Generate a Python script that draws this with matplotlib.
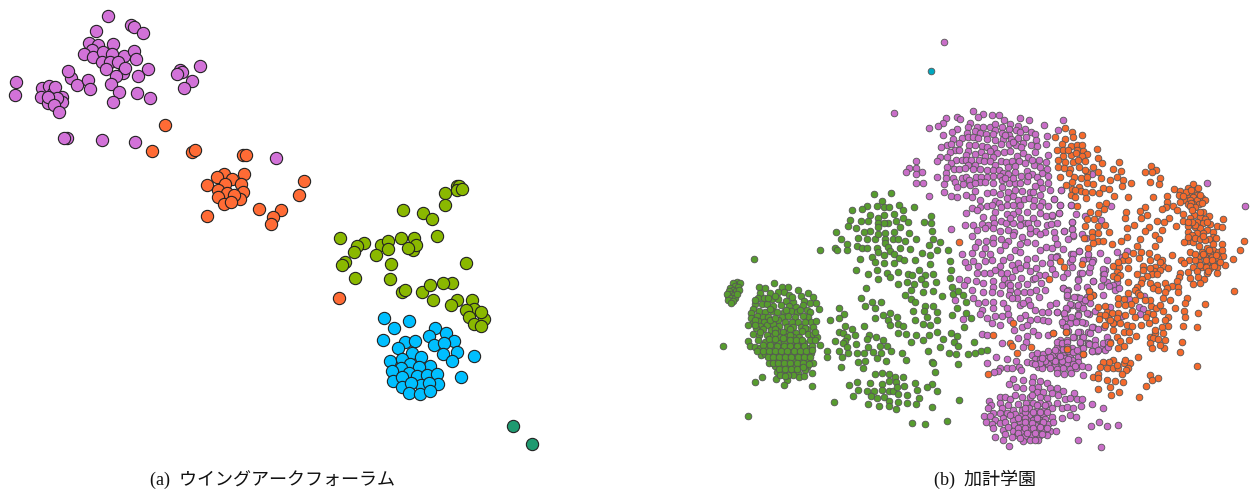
import numpy as np
import matplotlib
matplotlib.use("Agg")
import matplotlib.pyplot as plt

# (a) embedding, values
purple_a = [(107.7,15.7),(131,25.3),(134,27),(143.3,33.3),(96.3,30.7),(88.7,43.3),(98,44.7),(113.3,43.7),(91.7,50),(84,53.7),
    (93,57.3),(103.3,52),(111.7,53.7),(124,56.3),(134.3,51),(136,59),(102.3,62.3),(110,61.7),(118.3,62),(106.3,69.3),
    (122.7,73.3),(125,67.7),(116.3,75.7),(148,69.3),(138.3,75.7),(70.7,77.7),(67.7,70.7),(77.3,85.3),(87.7,80),(90,88.7),
    (110.7,83.7),(119,91.7),(113,101.7),(137.3,92.7),(150.3,98.3),(180.3,70),(181.7,72),(177.3,74),(200,65.7),(192,81),
    (183.7,87.7),(16.3,82),(14.7,95.3),(42.3,88.3),(49.3,85.7),(40.7,97),(62.3,96.7),(47.7,103.3),(61.7,102.3),(53.3,93.3),
    (55.3,87.3),(56.7,98.3),(48.3,97),(54,105),(59.3,112),(66.7,138),(64,138.3),(102,140),(135,142),(276,158.3)]
orange_a = [(165.3,125),(152.3,151),(191.7,152.3),(194.7,149.7),(243.3,154.7),(246,155.3),(244,174.3),(224,174),(217.3,176.7),
    (232,179),(206.7,184.7),(240.7,184),(225,184.3),(218.3,190),(242.7,191.7),(226.7,193),(240,199),(234,195),(218,197.3),
    (224.3,204.3),(231.3,202.3),(303.7,181.3),(299.3,195),(258.7,208.7),(281,210),(272.7,216.7),(271.3,224),(207,216),(339.3,297.7)]
olive_a = [(456.7,185.7),(459.3,185.7),(457.3,190),(461.7,189.3),(445,193),(444.7,204.7),(403,209.7),(423,213),(432,219),(340,238),
    (363.7,243),(357.3,246.3),(354.3,252),(381.3,244.7),(387.7,241),(387.7,248.7),(375.7,254.7),(401,238.3),(414.3,238),(412.7,250),
    (415.7,244.7),(407.7,248),(436.7,236.3),(391,263.7),(465.7,262.7),(345,261.7),(342,265.3),(355,278.3),(390,279.3),(401.7,292),
    (404.7,290),(421.7,292),(430.3,285.3),(452,282.7),(443.3,282.7),(433.3,300.3),(456.7,300),(451.3,304.7),(472.3,300),(474,309.3),
    (466,310.3),(484.3,319.3),(469,317.3),(481.3,311.7),(473.7,323.7),(480.7,326)]
blue_a = [(384,318.3),(409.3,320.7),(394,328),(382.7,339.7),(435.3,328.3),(445.7,333),(428.7,335.7),(454.3,341.3),(434,345),(444.3,343.3),
    (457,352),(443.3,354.3),(452.3,361),(474,356),(460.7,377),(405,342),(415.3,341.3),(397.7,348),(411.7,352.7),(421.3,357.3),
    (390.3,360.7),(401.7,359.3),(410.3,363.7),(429.7,366.3),(418.7,367),(401,367.7),(391.7,371.3),(409,373.3),(417.3,375.7),(426.7,375.3),
    (437.3,373.7),(393.3,380.7),(402,377),(438,384),(402,387),(420.7,385),(429,383.3),(411,383.3),(409.3,393.3),(420.3,394),(429.7,391.3)]
teal_a = [(512.7,426),(531.7,444)]

# (b) embedding
green_b = [(737,282),(733,283),(740,283),(735,286),(730,288),(738,287),(733,290),(729,291),(736,291),(731,294),(728,296),(734,295),
    (739,290),(727,294),(731,298),(735,298),(728,300),(733,301),(731,303),(737,294),
    (759,287),(765,288),(774,283),(782,287),(788,287),(798,290),(808,293),(801,296),(813,297),(770,293),(778,292),(784,292),(760,293),
    (789,295),(758,298),(764,298),(772,299),(778,299),(786,301),(793,302),(804,301),(810,303),(816,303),(755,304),(762,304),(767,304),
    (773,306),(781,305),(789,306),(796,307),(803,305),(819,309),(807,310),(810,312),(753,309),(759,311),(765,312),(772,311),(784,312),
    (791,311),(797,312),(751,313),(757,316),(763,317),(768,317),(782,317),(788,316),(795,317),(808,317),(751,318),(758,321),(764,322),
    (778,320),(785,322),(792,322),(798,322),(811,322),(816,321),(753,323),(760,326),(767,325),(773,324),(779,326),(787,327),(793,327),
    (801,327),(813,327),(756,328),(763,329),(771,330),(777,331),(783,332),(789,332),(796,333),(807,329),(753,334),(759,335),(767,335),
    (773,336),(780,337),(786,337),(793,337),(799,337),(808,334),(813,334),(817,337),(748,341),(758,340),(765,342),(772,342),(778,343),
    (784,343),(791,343),(797,343),(804,343),(810,340),(750,346),(755,347),(760,348),(767,347),(774,347),(781,348),(787,348),(794,349),
    (801,348),(807,348),(820,345),(761,355),(765,354),(771,353),(777,354),(784,354),(791,354),(797,354),(804,354),(811,353),(769,363),
    (775,360),(781,360),(787,361),(794,360),(801,360),(807,360),(813,363),(775,366),(781,366),(787,366),(794,366),(800,366),(807,367),
    (777,372),(784,372),(792,373),(798,373),(805,370),(812,373),(799,377),(793,375),(762,377),(755,382),(776,379),(787,380),(784,385),
    (812,386),(723,346),(754,259),(748,416),(820,250),
    (755,300),(768,298),(775,296),(792,297),(770,309),(777,312),(786,310),(800,310),(755,320),(770,320),(775,318),(803,316),(805,322),
    (748,325),(755,325),(775,329),(790,329),(805,328),(760,332),(775,333),(802,331),(790,335),(769,339),(775,339),(783,338),(790,340),
    (796,340),(802,340),(763,345),(770,345),(777,346),(784,346),(790,346),(797,346),(804,346),(812,346),(757,351),(763,351),(769,351),
    (775,351),(781,351),(787,351),(794,351),(800,351),(806,351),(812,350),(768,357),(773,357),(779,357),(785,357),(791,357),(798,357),
    (804,357),(810,357),(773,363),(778,363),(784,363),(790,363),(797,363),(803,363),(809,364),(779,369),(785,369),(791,369),(797,369),
    (803,367),(788,375),(780,375),(785,376),(804,376),(815,340),(815,332),
    (874,194),(891,193),(882,201),(867,206),(862,209),(852,210),(877,206),(884,207),(889,207),(899,205),(903,210),(914,207),(870,215),
    (884,215),(894,214),(878,218),(850,220),(861,221),(868,221),(878,223),(888,223),(896,221),(903,218),(908,222),(924,222),(931,216),
    (931,223),(848,226),(856,228),(870,231),(864,232),(878,227),(884,223),(894,232),(900,227),(909,233),(932,231),(836,232),(841,239),
    (847,244),(858,238),(867,239),(875,239),(878,234),(885,233),(885,239),(893,239),(898,239),(905,241),(916,239),(933,239),(940,242),
    (929,245),(835,248),(837,250),(847,250),(857,246),(862,248),(867,248),(885,243),(888,247),(877,248),(878,252),(900,248),(910,249),
    (890,251),(922,253),(930,255),(937,250),(948,250),(860,259),(872,257),(884,255),(894,254),(899,258),(904,260),(875,262),(884,263),
    (894,263),(915,260),(930,264),(950,261),(856,270),(868,274),(877,270),(887,273),(890,277),(898,272),(908,274),(912,275),(919,270),
    (933,274),(925,275),(951,270),(878,279),(921,279),(907,282),(898,284),(914,284),(925,284),(936,282),(950,278),(952,287),(866,288),
    (911,290),(923,292),(933,291),(905,295),(942,296),(953,294),(958,291),(963,295),(861,298),(872,302),(881,302),(911,299),(915,302),
    (966,302),(865,306),(875,308),(925,306),(933,306),(957,308),(913,311),(924,311),(937,312),(839,308),(844,314),(883,315),(890,313),
    (952,315),(966,313),(875,318),(839,318),(830,320),(897,317),(888,320),(927,317),(915,320),(937,320),(971,318),(923,324),(930,325),
    (964,327),(890,325),(898,324),(903,326),(845,326),(864,326),(852,329),(839,332),(843,333),(898,333),(906,334),(916,335),(929,335),
    (937,332),(951,333),(957,336),(855,335),(869,335),(876,337),(847,337),(923,340),(943,339),(911,342),(835,341),(845,341),(867,339),
    (883,340),(954,342),(974,342),(887,346),(856,344),(843,343),(868,347),(880,346),(847,347),(940,347),(958,346),(891,351),(839,351),
    (827,351),(873,352),(881,353),(857,353),(864,353),(928,351),(949,353),(956,354),(968,354),(975,353),(981,351),(987,350),(848,353),
    (902,353),(827,357),(842,357),(877,358),(886,361),(858,362),(865,361),(906,360),(932,362),(933,363),(958,364),(841,367),(863,368),
    (935,372),(875,374),(882,373),(889,374),(895,377),(903,377),(857,382),(870,383),(882,384),(889,381),(896,382),(915,383),(932,384),
    (849,385),(927,387),(904,386),(858,390),(867,391),(874,391),(882,390),(889,391),(893,391),(897,387),(917,390),(937,391),(871,396),
    (877,398),(884,397),(898,394),(907,395),(853,396),(919,398),(834,402),(868,404),(889,401),(898,402),(907,403),(916,404),(959,400),
    (879,406),(889,406),(896,409),(932,407),(947,421),(912,423),(925,424)]

purple_b = [(944,42),(894,113),(973,111),(983,114),(978,117),(992,115),(999,115),(957,117),(960,119),(946,118),(943,123),(938,126),
    (929,128),(970,123),(1004,120),(1020,118),(1029,120),(1010,124),(1018,126),(1044,125),(1063,120),(1058,130),(968,127),(957,129),
    (952,132),(943,135),(977,127),(983,127),(990,127),(995,124),(1002,127),(1009,129),(1025,129),(975,131),(995,130),(1016,130),(1020,132),
    (1031,132),(1047,136),(967,133),(980,133),(986,134),(993,134),(1002,133),(1009,135),(1035,134),(953,139),(962,138),(968,137),(973,137),
    (978,138),(987,139),(995,140),(1003,139),(1011,139),(1018,138),(1026,137),(1036,140),(947,145),(951,144),(941,147),(959,143),(969,145),
    (975,145),(982,146),(987,147),(994,148),(1001,144),(1009,144),(1016,145),(1023,143),(1031,145),(1037,146),(1046,144),(955,150),(950,152),
    (959,150),(968,151),(981,152),(990,151),(997,153),(1004,152),(1010,151),(1023,153),(940,157),(937,161),(947,157),(975,154),(966,155),
    (985,156),(993,157),(1017,156),(1028,157),(1048,155),(956,160),(962,160),(966,160),(971,160),(979,160),(984,161),(990,161),(1001,161),
    (1006,162),(1012,161),(1019,161),(1039,160),(1046,162),(951,163),(968,165),(975,165),(995,165),(1034,165),(947,167),(954,169),(959,169),
    (965,168),(973,169),(980,169),(987,170),(993,170),(999,170),(1008,167),(1015,166),(1047,169),(1027,171),(1042,173),(946,173),(1003,173),
    (1032,174),(1037,177),(1048,176),(937,177),(946,178),(953,178),(962,178),(966,177),(976,177),(981,177),(987,177),(993,176),(1000,176),
    (1021,176),(969,180),(944,184),(955,182),(963,184),(970,185),(980,182),(993,183),(1002,180),(1009,183),(1015,183),(1020,183),(1027,181),
    (1040,182),(1048,183),(957,187),(1002,187),(1050,190),(1061,190),(944,192),(951,196),(957,197),(966,195),(972,197),(987,193),(993,192),
    (1008,192),(1022,191),(1030,192),(1040,195),(929,196),(980,200),(995,201),(1007,198),(1013,196),(1018,200),(1024,199),(1029,198),(1034,200),
    (1054,199),(1042,202),(999,203),(972,208),(980,207),(987,206),(992,205),(1001,207),(1007,205),(1013,205),(1033,206),(1060,205),(1071,205),
    (966,213),(977,210),(995,212),(1018,211),(1027,212),(1040,213),(1046,216),(1052,216),(1059,213),(1007,214),(1013,214),(983,217),(993,218),
    (1033,218),(1072,222),(1001,221),(1006,223),(1025,223),(1037,223),(965,225),(973,225),(982,224),(988,225),(994,223),(1013,223),(1020,225),
    (1028,223),(1047,225),(951,229),(977,230),(985,228),(993,228),(1000,231),(1008,230),(1014,232),(1036,231),(1045,232),(1054,232),(1064,231),
    (1072,229),(972,236),(993,238),(1013,235),(1022,237),(1030,233),(1040,234),(1073,236),(978,242),(986,241),(1001,239),(1008,241),(1020,244),
    (1027,242),(1035,243),(1046,247),(1052,248),(993,243),(916,161),(909,168),(916,168),(906,172),(922,172),(916,174),(916,183),(923,183),
    (962,254),(972,253),(982,254),(990,254),(973,261),(985,261),(992,260),(1003,260),(1010,257),(1027,259),(1042,263),(1051,257),(1057,256),
    (1071,254),(1079,251),(1088,258),(978,266),(968,267),(1000,266),(1012,265),(1026,265),(1036,268),(1050,263),(1070,262),(1093,260),(977,273),
    (984,273),(990,273),(995,270),(1001,273),(1007,273),(1015,270),(1030,271),(1039,275),(1052,269),(1080,273),(1089,272),(1105,270),(959,279),
    (967,280),(976,281),(983,283),(993,281),(1004,279),(1012,277),(1021,278),(1033,279),(1078,279),(1103,274),(1093,281),(964,285),(972,290),
    (993,287),(1002,285),(1008,283),(1018,285),(1027,284),(1041,283),(1063,288),(1068,290),(1117,282),(983,292),(992,292),(1010,290),(1017,292),
    (1024,292),(1036,290),(1045,290),(1113,285),(1107,282),(1067,297),(1077,297),(1087,297),(955,300),(973,298),(978,303),(985,302),(993,302),
    (1003,303),(1009,295),(1017,298),(1028,300),(1039,297),(1050,305),(1083,302),(1072,305),(1078,307),(1090,303),(993,308),(982,310),(1007,308),
    (1020,305),(1030,305),(1042,312),(1048,312),(1057,312),(1067,309),(1064,314),(1089,314),(1078,314),(980,314),(987,318),(995,316),(1002,316),
    (1008,314),(1025,315),(1030,320),(1020,318),(1037,319),(1043,320),(1048,321),(1065,318),(1070,323),(1077,321),(1085,323),(963,319),(992,323),
    (1022,327),(1027,325),(1033,331),(1063,325),(1068,331),(1080,332),(1088,332),(1093,327),(982,334),(987,335),(1018,338),(1027,336),(1038,335),
    (1048,335),(1074,337),(1082,338),(1002,343),(1026,342),(1060,340),(1067,340),(1080,343),(1088,343),(1107,337),(1110,342),(1023,347),(1057,347),
    (1062,345),(1072,348),(1083,348),(1102,348),(1107,347),(1092,351),(1097,351),(996,357),(1007,359),(987,363),(1016,361),
    (1032,355),(1037,353),(1043,354),(1048,351),(1053,355),(1058,353),(1063,353),(1070,355),(1078,357),(1035,359),(1040,359),(1047,358),(1052,360),
    (1058,359),(1065,358),(1072,360),(1078,362),(1027,362),(1032,363),(1038,367),(1043,365),(1048,364),(1055,365),(1062,364),(1067,363),(1073,364),
    (1082,366),(1088,367),(1042,368),(1050,368),(1057,369),(1063,368),(1070,369),(1076,368),(1057,373),(1064,374),(1071,373),(1083,375),(1000,368),
    (998,371),(994,372),(1007,368),(1012,368),(1019,367),(1021,370),
    (1045,361),(1055,361),(1062,361),(1068,359),(1075,366),(1040,363),(1035,364),(1050,357),(1060,356),(1068,351),(1073,352),(1055,350),(1063,349),(1042,358),
    (1033,377),(1013,379),(1023,380),(1040,381),(1009,384),(1016,387),(1023,388),(1032,382),(1047,383),(1057,388),(1063,391),(1032,388),(1038,387),
    (1050,388),(1074,393),(1030,397),(1037,392),(1043,392),(1052,393),(1058,395),(1000,397),(1005,397),(1010,399),(1015,395),(1022,397),(1032,395),
    (1040,397),(1047,398),(1065,399),(1070,398),(1077,399),(1082,399),(989,401),(1000,403),(1008,405),(1018,404),(1026,403),(1033,403),(1040,403),
    (1048,404),(1057,403),(991,405),(988,408),(1002,408),(1013,410),(1022,410),(1029,408),(1037,410),(1044,410),(1052,408),(1062,408),(1067,407),
    (1073,408),(1081,406),(1092,404),(1103,408),(993,413),(1000,413),(1007,413),(1021,416),(1029,415),(1036,415),(1043,415),(1052,417),(1070,415),
    (1076,417),(984,416),(990,416),(995,420),(1003,418),(1013,420),(1020,422),(1027,420),(1033,420),(1040,420),(1045,419),(1062,418),(986,422),
    (992,424),(1000,423),(1014,425),(1021,427),(1028,425),(1035,425),(1042,424),(1048,424),(1053,422),(993,428),(1003,430),(1013,431),(1022,432),
    (1029,430),(1036,430),(1043,430),(1050,431),(1056,431),(995,437),(1005,434),(1017,435),(1025,436),(1032,435),(1039,436),(1047,435),(1003,440),
    (1023,441),(1030,440),(1038,440),(1009,446),(1078,440),(1101,447),(1099,422),(1091,426),(1107,426),(1118,425),
    (1015,414),(1025,412),(1033,412),(1040,412),(1047,412),(1018,418),(1025,418),(1037,418),(1043,422),(1025,422),(1032,423),(1018,428),(1025,428),
    (1033,428),(1040,427),(1047,428),(1018,433),(1027,433),(1035,433),(1042,434),(1012,437),(1020,438),(1035,440),(1010,415),(1005,422),(1008,427),
    (1037,405),(1025,408),(1045,405),
    (1005,135),(1013,142),(1021,147),(1035,152),(1025,163),(1032,160),(1040,167),(1008,174),(1015,172),(1028,176),(1005,178),(1013,178),(985,182),
    (975,183),(1035,186),(1042,188),(1033,192),(1015,190),(1000,194),(975,191),(1040,206),(1020,205),(1048,206),(1010,218),(1020,218),(1030,228),
    (1055,238),(1005,245),(1015,250),(1000,250),(1020,252),(1040,250),(985,248),(975,247),(965,262),(1018,263),(1035,258),(1045,275),(1020,268),
    (1010,285),(1000,293),(1035,278),(1030,292),(1012,298),(1023,303),(1035,310),(1010,320),(1000,325),(1014,330),
    (1092,174),(1061,190),(1054,199),(1060,205),(1071,205),(1111,206),(1059,213),(1076,214),(1085,216),(1101,220),(1052,215),(1072,222),(1057,223),
    (1051,224),(1064,231),(1072,229),(1082,234),(1073,235),(1068,239),(1086,238),(1057,244),(1063,249),(1079,251),(1073,254),(1072,259),(1088,254),
    (1100,253),(1117,252),(1127,251),(1056,257),(1083,260),(1107,260),(1122,257),(1072,267),(1090,267),(1103,269),(1104,274),(1082,273),(1092,262),
    (1067,273),(1063,277),(1055,274),(1093,281),(1078,280),(1103,279),(1101,286),(1109,286),(1115,290),(1119,288),(1063,288),(1067,291),(1077,287),
    (1087,287),(1067,295),(1080,298),(1085,300),(1074,297),(1093,295),(1103,295),(1129,299),(1144,296),(1056,303),(1070,304),(1066,308),(1078,305),
    (1083,308),(1095,311),(1110,307),(1139,307),(1143,309),(1140,314),(1057,312),(1064,313),(1071,317),(1078,315),(1087,313),(1062,322),(1082,322),
    (1076,322),(1122,316),(1113,323),(1092,327),(1098,329),(1104,327),(1066,327),(1078,332),(1083,337),(1090,333),(1095,340),(1073,337),(1057,342),
    (1062,343),(1067,342),(1080,342),(1088,343),(1103,343),(1108,342),(1089,344),(1095,345),(1067,347),(1077,350),(1092,351),(1098,350),(1105,350),
    (1108,347),(1207,183),(1245,206)]

orange_b = [(1065,128),(1055,137),(1072,132),(1073,137),(1082,135),(1065,139),(1062,144),(1071,146),(1077,145),(1082,145),(1097,149),(1057,150),
    (1063,150),(1077,150),(1083,151),(1071,155),(1076,153),(1087,154),(1063,156),(1082,156),(1098,158),(1058,160),(1065,162),(1073,162),(1085,161),
    (1102,163),(1119,162),(1058,167),(1070,169),(1079,167),(1093,167),(1113,169),(1151,166),(1064,168),(1156,170),(1069,173),(1087,172),(1098,172),
    (1121,171),(1145,172),(1152,172),(1060,177),(1074,177),(1081,178),(1087,177),(1101,178),(1117,177),(1110,180),(1160,178),(1123,180),(1072,182),
    (1066,185),(1079,187),(1087,183),(1093,184),(1150,182),(1131,183),(1159,184),(1122,186),(1103,188),(1081,191),(1085,192),(1072,189),(1099,193),
    (1109,189),(1092,192),(1174,189),(1180,191),(1193,184),(1188,188),(1196,190),(1198,188),(1071,195),(1086,198),(1114,196),(1075,197),(1128,197),
    (1153,197),(1167,196),(1179,195),(1190,195),(1197,195),(1187,197),(1193,197),(1202,198),(1205,200),(1167,202),(1185,200),(1190,200),(1197,200),
    (1180,202),(1077,206),(1099,205),(1106,203),(1188,204),(1193,204),(1199,204),(1173,206),(1202,203),(1145,207),(1166,207),(1140,211),(1126,212),
    (1162,209),(1177,210),(1090,212),(1104,209),(1098,213),(1183,214),(1203,212),(1147,215),(1194,215),(1200,217),(1209,216),(1125,218),(1141,218),
    (1169,218),(1190,218),(1205,219),(1223,219),(1087,219),(1094,219),(1157,221),(1164,222),(1183,221),(1197,222),(1203,223),(1210,224),(1134,225),
    (1085,226),(1098,226),(1105,225),(1176,226),(1188,226),(1195,227),(1200,228),(1217,226),(1222,227),(1127,228),(1149,227),(1162,230),(1207,230),
    (1145,231),(1092,232),(1188,232),(1197,233),(1203,233),(1213,232),(1098,233),(1109,232),(1155,235),(1127,237),(1192,235),(1213,237),(1092,237),
    (1140,239),(1159,239),(1209,239),(1216,238),(1084,238),(1098,241),(1103,241),(1121,241),(1188,241),(1184,242),(1193,242),(1244,241),(1093,243),
    (1112,244),(1213,244),(1222,244),(1137,246),(1155,246),(1199,246),(1240,250),(1088,248),(1207,248),(1213,250),(1141,252),(1149,253),(1190,252),
    (1202,252),(1210,253),(1218,252),(1172,255),(1223,256),(1133,253),(1157,257),(1198,257),(1205,257),(1212,257),(1218,258),(1123,260),(1128,260),
    (1139,258),(1162,260),(1233,259),(1150,260),(1181,260),(1189,260),(1184,263),(1199,262),(1207,263),(1213,263),(1225,265),(1113,266),(1119,267),
    (1128,268),(1143,266),(1155,267),(1163,266),(1193,267),(1202,267),(1210,268),(1217,267),(1168,268),(1154,271),(1160,270),(1117,272),(1137,274),
    (1152,274),(1180,273),(1207,273),(1217,273),(1188,272),(1197,271),(1113,276),(1120,275),(1147,276),(1157,274),(1179,277),(1198,277),(1190,278),
    (1204,279),(1142,279),(1117,278),(1128,282),(1165,283),(1177,281),(1141,283),(1150,283),(1157,285),(1193,284),(1200,283),(1172,286),(1137,287),
    (1167,288),(1178,287),(1135,290),(1153,288),(1165,292),(1178,292),(1089,291),(1234,291),(1128,293),(1138,293),(1093,295),(1118,298),(1124,299),
    (1163,298),(1187,298),(1135,300),(1170,300),(1151,306),(1156,308),(1185,303),(1205,304),(1098,307),(1105,306),(1118,304),(1131,304),(1175,308),
    (1107,312),(1100,315),(1118,313),(1112,313),(1148,313),(1163,311),(1132,311),(1184,311),(1198,313),(1153,314),(1099,319),(1108,318),(1117,318),
    (1135,317),(1146,317),(1168,317),(1185,317),(1105,325),(1113,323),(1120,323),(1127,325),(1149,323),(1165,320),(1141,325),(1132,326),(1168,326),
    (1162,327),(1183,326),(1197,327),(1053,333),(1066,332),(1113,330),(1124,332),(1129,332),(1155,333),(1163,333),(1136,336),(1150,337),(1117,337),
    (1153,338),(1158,339),(1165,340),(1120,341),(1129,340),(1110,343),(1182,342),(1150,343),(1067,349),(1124,346),(1118,348),(1152,348),(1164,348),
    (1180,352),(1083,354),(1138,357),(1113,360),(1109,362),(1124,363),(1103,362),(1130,363),(1100,367),(1107,368),(1113,368),(1118,368),(1128,368),
    (1197,366),(1093,377),(1098,374),(1126,370),(1122,374),(1150,375),(1152,380),(1158,378),(1098,378),(1107,380),(1115,381),(1123,382),(1110,387),
    (1146,386),(1098,389),(1119,392),(1111,395),(1139,397),
    (959,242),(1049,279),(1060,261),(1064,267),(1082,264),(1089,291),(1090,297),(1013,323),(993,335),(1010,343),(1012,346),(1031,347),(1017,353),
    (1053,333),(1066,332),(1067,349),(1083,354),(988,374),
    (1203,254),(1209,250),(1216,255),(1206,260),(1212,260),(1220,262),(1195,260),(1200,265),(1206,267),(1214,266),(1208,271),(1222,250),(1195,254),
    (1186,192),(1191,190),(1200,195),(1183,196),(1191,203),(1195,207),(1190,206),(1195,225),(1192,222),(1207,222),(1195,238),(1200,239),(1205,240),
    (1188,222),(1188,237),(1203,236),(1200,212),(1192,210),(1078,160),(1068,150),(1085,170),(1075,190),(1150,300),(1140,295),(1158,290),(1145,300),
    (1160,305),(1155,320),(1125,305),(1110,320),(1125,315),(1105,315),(1143,270),(1150,268),(1160,262),(1118,262),(1125,255),(1155,330),(1160,345),
    (1125,360),(1117,365)]
teal_b = [(931,71)]

captions = ["(a)  ウイングアークフォーラム", "(b)  加計学園"]
caption_x = [273, 984.5]

plt.rcParams['font.family'] = ['Liberation Serif', 'Noto Sans CJK JP']

fig = plt.figure(figsize=(12.5, 4.91), dpi=100)
ax = fig.add_axes([0, 0, 1, 1])
ax.set_xlim(0, 1250)
ax.set_ylim(491, 0)
ax.axis('off')

# left panel has big dots with black outline
for pts, col in [(purple_a, '#d272d8'), (orange_a, '#ff6b35'), (olive_a, '#8ab800'), (blue_a, '#00bfff'), (teal_a, '#1f9a70')]:
    x, y = np.array(pts).T
    ax.scatter(x, y, s=78, c=col, edgecolors='#222222', linewidths=0.8)

# right panel
for pts, col in [(green_b, '#579c2e'), (purple_b, '#c96ec8'), (orange_b, '#f56a2c'), (teal_b, '#00a8c0')]:
    x, y = np.array(pts).T
    ax.scatter(x, y, s=23, c=col, edgecolors='#555555', linewidths=0.6)

for cx, label in zip(caption_x, captions):
    ax.text(cx, 479.5, label, ha='center', va='center', fontsize=13, color='#111111')

fig.savefig('out.png', dpi=100)
